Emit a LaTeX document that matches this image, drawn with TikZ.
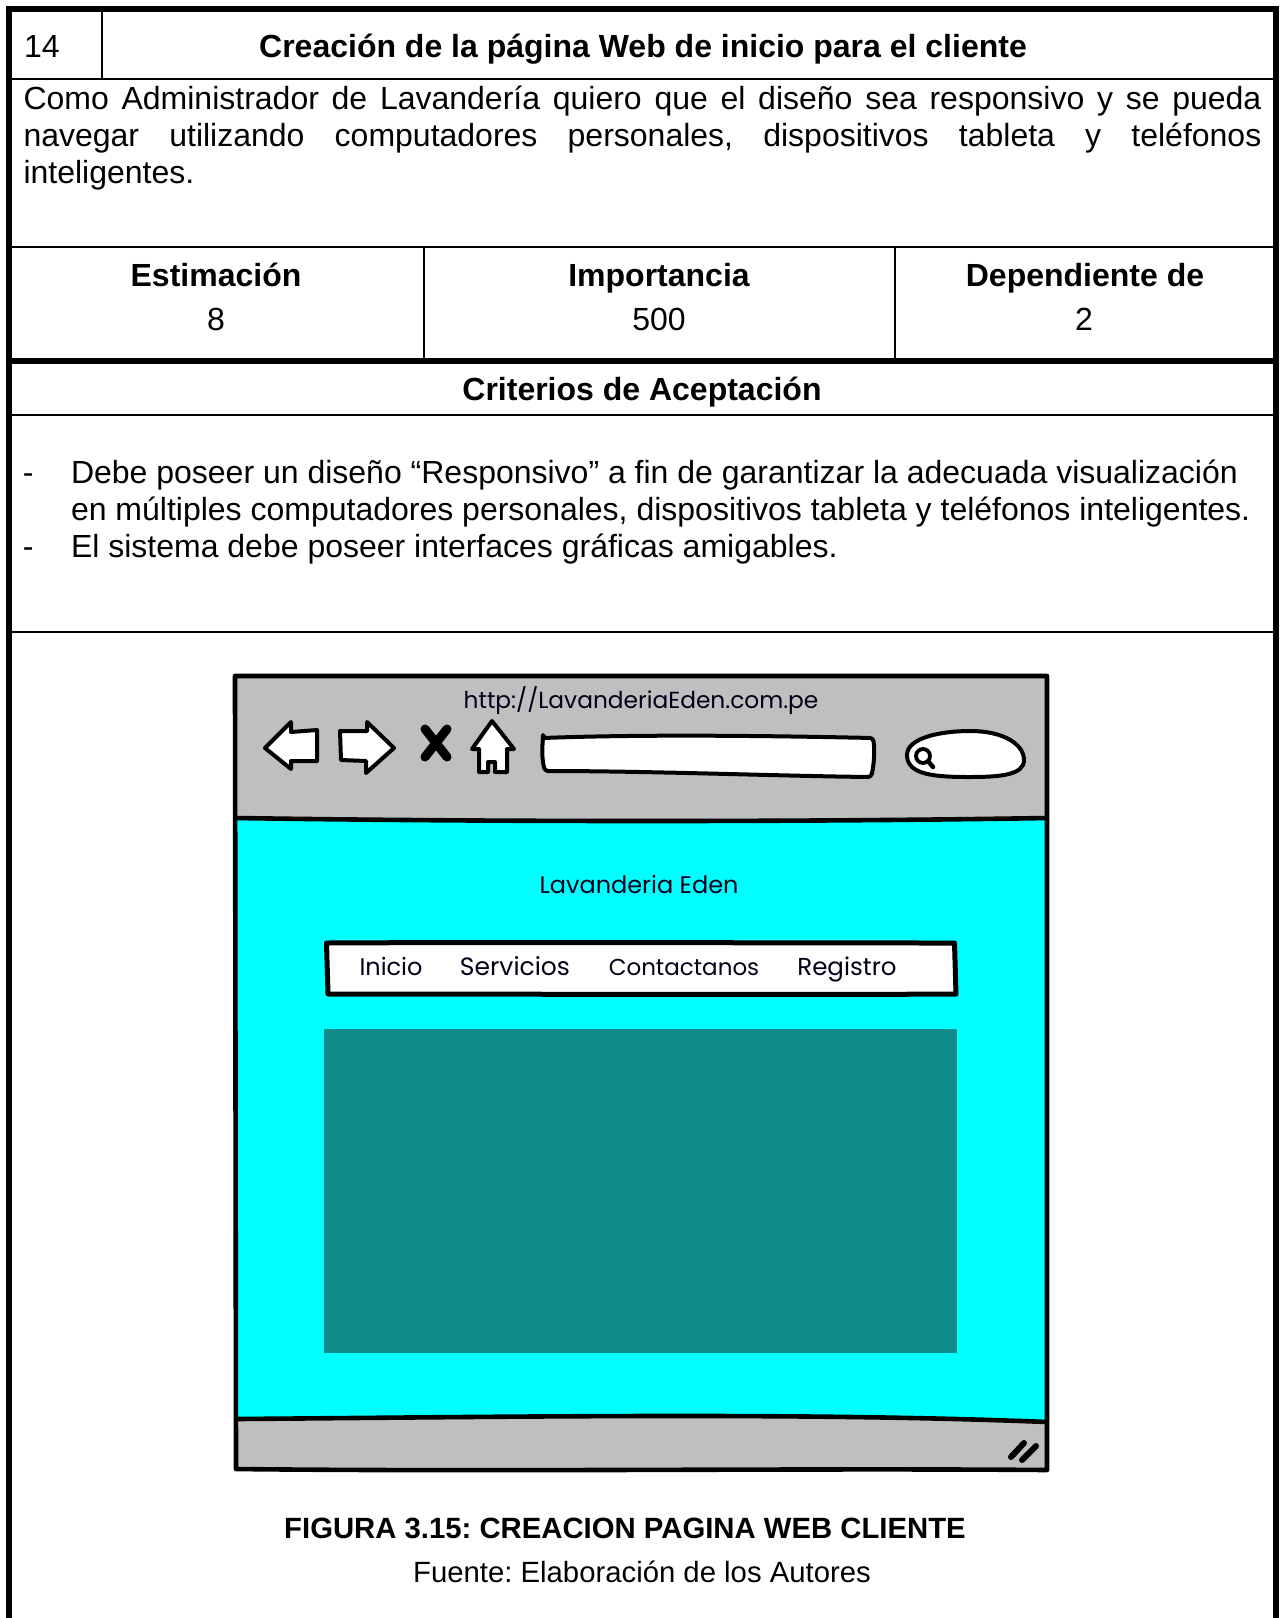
\documentclass[tikz,border=0pt]{standalone}
\usepackage{fontspec}
\setmainfont{Liberation Sans}
\newfontfamily\sketchfont{Poppins}
\definecolor{bodycyan}{RGB}{0,255,255}
\definecolor{panelteal}{RGB}{16,141,138}
\definecolor{chrome}{RGB}{191,191,191}
\frenchspacing
\tikzset{
  thick rule/.style={line width=6pt,line cap=rect},
  thin rule/.style={line width=1.4pt},
  txt/.style={inner sep=0pt,outer sep=0pt,anchor=base,font=\fontsize{32}{37}\selectfont},
  txtb/.style={txt,font=\fontsize{32}{37}\selectfont\bfseries},
  capb/.style={txt,font=\fontsize{29.3}{34}\selectfont\bfseries},
  capr/.style={txt,font=\fontsize{29.3}{34}\selectfont},
  txtl/.style={txt,anchor=base west},
  sk/.style={draw=black,line width=4.6pt,line join=round},
  skicon/.style={draw=black,line width=4pt,line join=round,fill=white},
  sktext/.style={inner sep=0pt,outer sep=0pt,anchor=base,text=black!90!blue},
}
\begin{document}
\begin{tikzpicture}[x=1pt,y=-1pt]
\useasboundingbox (0,0) rectangle (1285,1618);
% table rules
\draw[thick rule] (9,1625) -- (9,9) -- (1276,9) -- (1276,1625);
\draw[thick rule,line cap=butt] (9,361) -- (1276,361);
\draw[thin rule] (12,79) -- (1273,79);
\draw[thin rule] (102,12) -- (102,79);
\draw[thin rule] (12,247) -- (1273,247);
\draw[thin rule] (424,247) -- (424,358);
\draw[thin rule] (895,247) -- (895,358);
\draw[thin rule] (12,415) -- (1273,415);
\draw[thin rule] (12,632) -- (1273,632);
% table text
\node[txtl] (num) at (24,57) {14};
\node[txtb] (title) at (643,57) {Creación de la página Web de inicio para el cliente};
\node[txtl,text width=1238pt,align=justify,anchor=north west] (story) at (23.5,86)
  {Como Administrador de Lavandería quiero que el diseño sea responsivo y se \mbox{pueda}\linebreak \mbox{navegar} utilizando computadores personales, dispositivos tableta y \mbox{teléfonos}\linebreak \mbox{inteligentes.}};
\node[txtb] (h1) at (216,286) {Estimación};
\node[txt] (v1) at (216,330) {8};
\node[txtb] (h2) at (659,286) {Importancia};
\node[txt] (v2) at (659,330) {500};
\node[txtb] (h3) at (1085,286) {Dependiente de};
\node[txt] (v3) at (1084,330) {2};
\node[txtb] (crit) at (642,400) {Criterios de Aceptación};
\node[txtl] (d1) at (23,483) {-};
\node[txtl] (c1) at (71,483) {Debe poseer un diseño “Responsivo” a fin de garantizar la adecuada visualización};
\node[txtl] (c2) at (71,520) {en múltiples computadores personales, dispositivos tableta y teléfonos inteligentes.};
\node[txtl] (d2) at (23,557) {-};
\node[txtl] (c3) at (71,557) {El sistema debe poseer interfaces gráficas amigables.};
% browser window
\fill[chrome] (235,676) -- (1047,676) -- (1047,1470) -- (235,1470) -- cycle;
\fill[bodycyan] (237,819) .. controls (500,822) and (800,822) .. (1046,819)
  -- (1047,1422) .. controls (800,1412) and (500,1417) .. (236,1419) -- cycle;
\fill[white] (326,941) rectangle (956,996);
\fill[panelteal] (324,1029) rectangle (957,1353);
\draw[sk,line width=5pt] (326.5,943) .. controls (500,942) and (800,943) .. (954.5,943)
  -- (956,994) .. controls (800,995) and (500,994) .. (328,994) -- cycle;
\draw[sk] (235,676) -- (1047,676) -- (1047,1470)
  .. controls (800,1468) and (500,1472) .. (236,1469) -- cycle;
\draw[sk] (235,818) .. controls (500,822) and (800,822) .. (1047,818);
\draw[sk] (236,1419) .. controls (500,1417) and (800,1412) .. (1047,1422);
% toolbar icons
\draw[skicon] (265,748) -- (291,722) -- (291,732) -- (317,730) -- (317,761) -- (291,761) -- (291,769) -- cycle;
\draw[skicon] (340,731) -- (367,731) -- (367,722) -- (394,748) -- (366,773) -- (366,761) -- (341,760) -- cycle;
\draw[line width=9pt,line cap=round,black] (425,729) -- (447,757) (447,729) -- (425,757);
\draw[skicon] (492,721) -- (514,749) -- (507,749) -- (507,772) -- (495,772) -- (495,762) -- (488,762) -- (488,772) -- (479,772) -- (479,749) -- (472,749) -- cycle;
\draw[skicon,rounded corners=3pt] (543,738) .. controls (650,734) and (780,736) .. (873,738)
  .. controls (875,750) and (874,765) .. (871,777) .. controls (780,776) and (650,771) .. (545,771)
  .. controls (542,760) and (542,750) .. (543,738) -- cycle;
\draw[skicon] (907,755) .. controls (907,738) and (940,731) .. (970,731)
  .. controls (1005,731) and (1024,745) .. (1024,760) .. controls (1024,775) and (1000,777) .. (970,777)
  .. controls (935,777) and (907,775) .. (907,755) -- cycle;
\draw[black,line width=3.8pt] (923,756) circle (7pt);
\draw[black,line width=4.5pt,line cap=round] (928,761) -- (933,767);
\draw[black,line width=6pt,line cap=round] (1011,1457) -- (1024,1443) (1022,1460) -- (1036,1446);
% browser text
\node[sktext,font=\sketchfont\fontsize{23.3}{28}\selectfont] (url) at (641,708) {http://LavanderiaEden.com.pe};
\node[sktext,font=\sketchfont\fontsize{24}{28}\selectfont] (brand) at (639,893) {Lavanderia Eden};
\node[sktext,font=\sketchfont\fontsize{24}{28}\selectfont] (m1) at (391,975) {Inicio};
\node[sktext,font=\sketchfont\fontsize{25}{28}\selectfont] (m2) at (515,975) {Servicios};
\node[sktext,font=\sketchfont\fontsize{23}{28}\selectfont] (m3) at (684,975) {Contactanos};
\node[sktext,font=\sketchfont\fontsize{24.5}{28}\selectfont] (m4) at (847,975) {Registro};
% caption
\node[capb] (cap) at (625,1538) {FIGURA 3.15: CREACION PAGINA WEB CLIENTE};
\node[capr] (src) at (642,1582) {Fuente: Elaboración de los Autores};
\end{tikzpicture}
\end{document}
